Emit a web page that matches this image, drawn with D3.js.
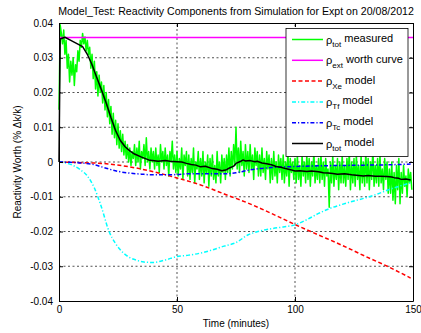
<!DOCTYPE html>
<html><head><meta charset="utf-8">
<script src="https://cdn.jsdelivr.net/npm/d3@7"></script>
<style>
html,body{margin:0;padding:0;background:#fff;}
svg{display:block;font-family:"Liberation Sans",Arial,sans-serif;}
</style></head>
<body>
<svg id="chart" width="421" height="333"></svg>
<script>
// ---- data ----
const titleText = "Model_Test: Reactivity Components from Simulation for Expt on 20/08/2012";
const xTicks = [0, 50, 100, 150];
const yTicks = [-0.04, -0.03, -0.02, -0.01, 0, 0.01, 0.02, 0.03, 0.04];

// measured total reactivity, one sample every 0.5 min from t = 0
const measuredStep = 0.5;
const measuredV = [
 .015,.0395,
 .037,.034,.038,.031,.035,
 .027,.031,.023,.029,.025,.030,.022,.028,
 .026,.032,.029,.035,.033,.037,
 .034,.036,.032,.035,.031,.033,
 .027,.031,.024,.029,.021,.026,
 .019,.025,.020,.023,.017,.022,
 .015,.020,.013,.018,.011,.016,
 .008,.014,.007,.012,.005,.011,
 .004,.009,.003,.008,.002,.006,
 .001,.005,.000,.004,-.001,.003,
 .001,.005,-.001,.004,.000,.006,-.002,.003,.001,.005,-.001,.007,.000,.003,-.002,.004,.000,
 .003,-.002,.004,-.001,.002,-.003,.005,.000,.003,-.002,
 .004,-.001,.002,-.004,.003,.000,.006,-.002,.002,-.003,
 .003,-.004,.001,-.002,.004,-.005,.002,-.001,.003,-.004,
 .002,-.005,.001,-.003,.004,-.006,.000,-.002,.003,-.005,
 .001,-.004,.003,-.006,.000,-.003,.002,-.007,.001,-.004,
 .002,-.005,-.001,-.006,.003,-.004,.000,-.006,.002,-.003,
 .001,-.005,.002,-.003,.004,-.004,.003,-.002,.005,-.001,
 .010,-.002,.004,-.003,.006,-.001,.003,-.004,.005,-.002,
 .003,-.003,.005,-.002,.002,-.005,.004,-.001,.003,-.004,
 .002,-.004,.004,-.003,.001,-.005,.003,-.002,.002,-.006,
 .001,-.005,.003,-.004,.000,-.006,.002,-.003,.001,-.005,
 .002,-.006,.000,-.004,.003,-.007,.001,-.003,.000,-.005,
 .001,-.006,.002,-.005,-.001,-.007,.002,-.004,.000,-.006,
 .002,-.005,.001,-.007,.000,-.004,.003,-.006,-.001,-.005,
 .001,-.006,.002,-.005,.000,-.007,.001,-.004,-.002,-.013,
 .000,-.006,.002,-.007,-.001,-.005,.001,-.008,.000,-.006,
 .002,-.006,-.001,-.007,.001,-.005,.003,-.008,.000,-.006,
 .001,-.007,.002,-.005,-.001,-.008,.002,-.006,.000,-.007,
 .003,-.006,.001,-.008,.000,-.005,.004,-.007,-.001,-.006,
 .001,-.007,.002,-.006,-.002,-.008,.001,-.005,.000,-.009,
 -.002,-.009,.000,-.011,-.003,-.012,-.001,-.008,.001,-.012,
 -.003,-.009,-.001,-.007,-.004,-.010,-.002,-.006,-.003,-.008
];

// external worth curve
const extT = [0, 150];
const extV = [0.0358, 0.0358];

// xenon model
const xeT = [0,10,20,30,40,50,60,70,80,90,100,110,120,130,140,149];
const xeV = [0,-0.0002,-0.0005,-0.0014,-0.0028,-0.0046,-0.0066,-0.0092,-0.0118,-0.0148,-0.0180,-0.0210,-0.0240,-0.0272,-0.0303,-0.0334];

// fuel temperature model
const tfT = [0,3,6,9,12,15,18,21,24,27,30,33,36,40,45,50,55,60,65,70,75,80,85,90,95,100,105,110,115,120,125,130,135,140,145,149];
const tfV = [0,-0.0003,-0.001,-0.0022,-0.004,-0.0075,-0.013,-0.0196,-0.0235,-0.026,-0.0275,-0.0283,-0.0288,-0.0289,-0.0282,-0.0272,-0.0268,-0.0262,-0.0253,-0.0242,-0.0232,-0.021,-0.0199,-0.0192,-0.0187,-0.0181,-0.0166,-0.0148,-0.0133,-0.0122,-0.0112,-0.0103,-0.0092,-0.0079,-0.0068,-0.006];

// coolant temperature model
const tcT = [0,5,10,15,20,25,30,35,40,45,50,55,60,70,75,80,85,90,100,110,120,130,140,149];
const tcV = [0,-0.0001,-0.0003,-0.0008,-0.0018,-0.0027,-0.0032,-0.0035,-0.0037,-0.0037,-0.0036,-0.0034,-0.0034,-0.0034,-0.0031,-0.0024,-0.0019,-0.0016,-0.0013,-0.0011,-0.001,-0.0009,-0.0008,-0.0006];

// total model
const totT = [0,0.5,2.5,5,7,10,12,14,16,18,20,22,24,26,28,30,32,35,38,42,45,47,50,52,54,56,58,60,62,65,67,69,71,72,74,75,77,78,79,81,83,84,86,88,90,92,94,96,98,100,102,105,107,110,112,114,116,118,121,124,126,129,131,134,136,139,141,142,144,145,147,149];
const totV = [0,0.0354,0.0359,0.035,0.0343,0.0332,0.031,0.028,0.0243,0.0207,0.017,0.0128,0.009,0.0062,0.0044,0.0032,0.0023,0.0014,0.0006,0.0002,0.0004,0.0002,0.0001,0.0,-0.0004,-0.0007,-0.0009,-0.0014,-0.0012,-0.0019,-0.0021,-0.0025,-0.0022,-0.0018,-0.0012,-0.0004,0.0002,0.0006,0.0003,0.0004,0.0001,0.0002,-0.0003,-0.0005,-0.0008,-0.0013,-0.0015,-0.0019,-0.0022,-0.0026,-0.0025,-0.0027,-0.0026,-0.0028,-0.0031,-0.0032,-0.0033,-0.0035,-0.0034,-0.0037,-0.0038,-0.004,-0.0039,-0.0041,-0.0041,-0.0042,-0.0043,-0.0045,-0.0047,-0.005,-0.0049,-0.0052];

const legendLabels = [
  {sym:"\u03C1", sub:"tot", rest:" measured"},
  {sym:"\u03C1", sub:"ext", rest:" worth curve"},
  {sym:"\u03C1", sub:"Xe", rest:" model"},
  {sym:"\u03C1", sub:"Tf", rest:" model"},
  {sym:"\u03C1", sub:"Tc", rest:" model"},
  {sym:"\u03C1", sub:"tot", rest:" model"}
];

// ---- layout ----
const W = 421, H = 333;
const m = {left:59, right:8, top:23, bottom:32};
const svg = d3.select("#chart");
const x = d3.scaleLinear().domain([0,150]).range([m.left, W - m.right]);
const y = d3.scaleLinear().domain([-0.04,0.04]).range([H - m.bottom, m.top]);

// grid
const grid = svg.append("g").attr("stroke","#000").attr("stroke-width",0.8).attr("stroke-dasharray","2,2.5").attr("opacity",0.85);
grid.selectAll("line.gx").data(xTicks.slice(1,-1)).join("line")
  .attr("x1",d=>x(d)).attr("x2",d=>x(d)).attr("y1",y(-0.04)).attr("y2",y(0.04));
grid.selectAll("line.gy").data(yTicks.slice(1,-1)).join("line")
  .attr("y1",d=>y(d)).attr("y2",d=>y(d)).attr("x1",x(0)).attr("x2",x(150));

// series
function zip(t,v){ return t.map((tt,i)=>[tt,v[i]]); }
const measured = measuredV.map((v,i)=>[i*measuredStep, v]);
const lineLin = d3.line().x(d=>x(d[0])).y(d=>y(d[1]));
const lineSmooth = d3.line().x(d=>x(d[0])).y(d=>y(d[1])).curve(d3.curveMonotoneX);

const series = [
  {data:measured, color:"#00ff00", w:1.5, dash:null, gen:lineLin},
  {data:zip(extT,extV), color:"#ff00ff", w:1.5, dash:null, gen:lineLin},
  {data:zip(xeT,xeV), color:"#ff0000", w:1.5, dash:"4,2.5", gen:lineSmooth},
  {data:zip(tfT,tfV), color:"#00ffff", w:1.5, dash:"4,2,1.2,2", gen:lineSmooth},
  {data:zip(tcT,tcV), color:"#0000ff", w:1.5, dash:"4,2,1.2,2", gen:lineSmooth},
  {data:zip(totT,totV), color:"#000000", w:1.5, dash:null, gen:lineLin}
];
const plot = svg.append("g");
series.forEach(s=>{
  plot.append("path").attr("d", s.gen(s.data)).attr("fill","none")
    .attr("stroke", s.color).attr("stroke-width", s.w)
    .attr("stroke-dasharray", s.dash).attr("stroke-linejoin","round");
});

// axes
const fmt = d => d === 0 ? "0" : String(+d.toFixed(2));
const axB = svg.append("g").attr("transform",`translate(0,${y(-0.04)})`)
  .call(d3.axisBottom(x).tickValues(xTicks).tickSize(-4).tickSizeOuter(0).tickPadding(5).tickFormat(d=>String(d)));
const axT = svg.append("g").attr("transform",`translate(0,${y(0.04)})`)
  .call(d3.axisTop(x).tickValues(xTicks).tickSize(-4).tickSizeOuter(0).tickFormat(""));
const axL = svg.append("g").attr("transform",`translate(${x(0)},0)`)
  .call(d3.axisLeft(y).tickValues(yTicks).tickSize(-4).tickSizeOuter(0).tickPadding(6).tickFormat(fmt));
const axR = svg.append("g").attr("transform",`translate(${x(150)},0)`)
  .call(d3.axisRight(y).tickValues(yTicks).tickSize(-4).tickSizeOuter(0).tickFormat(""));
[axB,axT,axL,axR].forEach(a=>{
  a.selectAll("text").attr("font-size",10).attr("fill","#000").attr("font-family","Liberation Sans, Arial, sans-serif");
  a.select(".domain").attr("stroke","#000");
  a.selectAll(".tick line").attr("stroke","#000");
});

// legend
const lg = svg.append("g");
const lgX = 286, lgY = 28.5, lgW = 122, lgH = 128, rowH = 20.8;
lg.append("rect").attr("x",lgX).attr("y",lgY).attr("width",lgW).attr("height",lgH)
  .attr("fill","#fff").attr("stroke","#000").attr("stroke-width",0.8);
series.forEach((s,i)=>{
  const cy = lgY + 11 + i*rowH;
  lg.append("line").attr("x1",lgX+6).attr("x2",lgX+37).attr("y1",cy).attr("y2",cy)
    .attr("stroke",s.color).attr("stroke-width",s.w).attr("stroke-dasharray",s.dash);
  const t = lg.append("text").attr("x",lgX+40).attr("y",cy+4).attr("font-size",11).attr("fill","#000");
  t.append("tspan").text(legendLabels[i].sym);
  t.append("tspan").attr("font-size",8).attr("dy",3.5).text(legendLabels[i].sub);
  t.append("tspan").attr("dy",-5).text(legendLabels[i].rest);
});

// labels
svg.append("text").attr("x",(x(0)+x(150))/2).attr("y",15).attr("text-anchor","middle")
  .attr("font-size",10.6).attr("fill","#000").text(titleText);
svg.append("text").attr("x",(x(0)+x(150))/2).attr("y",327).attr("text-anchor","middle")
  .attr("font-size",10).attr("fill","#000").text("Time (minutes)");
svg.append("text").attr("transform",`translate(21,${y(0)}) rotate(-90)`).attr("text-anchor","middle")
  .attr("font-size",10).attr("fill","#000").text("Reactivity Worth (% \u0394k/k)");
</script>
</body></html>
